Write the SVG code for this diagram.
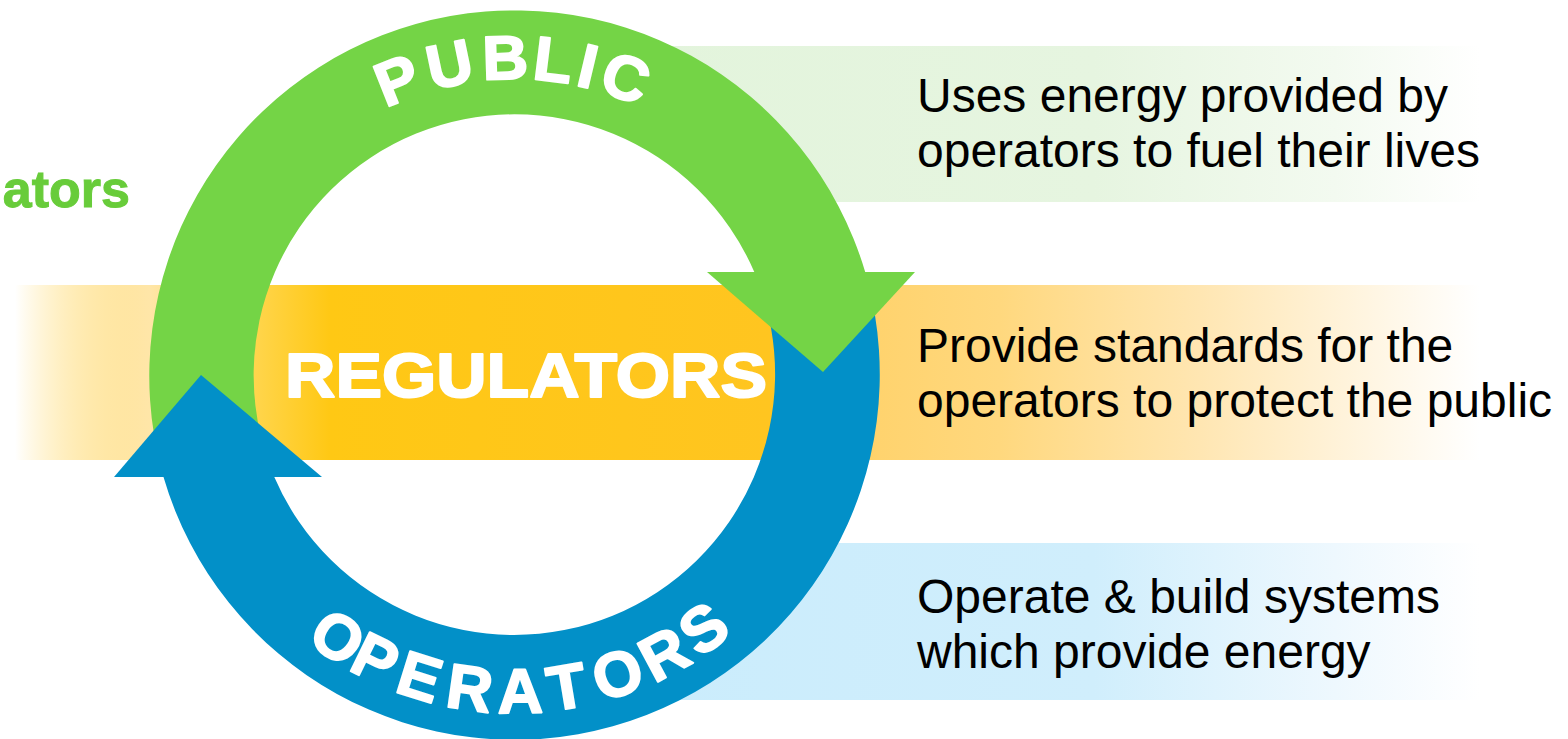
<svg xmlns="http://www.w3.org/2000/svg" width="1568" height="739" viewBox="0 0 1568 739">
<style>
.desc{font-family:"Liberation Sans",Arial,sans-serif;font-size:48px;fill:#000}
.ring{font-family:"Liberation Sans",Arial,sans-serif;font-weight:bold;font-size:63px;fill:#fff;stroke:#fff;stroke-width:2;stroke-linejoin:round}
.pub text{font-size:62px;text-anchor:middle}
.op text{text-anchor:middle}
</style>
<defs>
<linearGradient id="gOrange" gradientUnits="userSpaceOnUse" x1="15" y1="0" x2="1480" y2="0">
<stop offset="0" stop-color="#FFC61E" stop-opacity="0"/>
<stop offset="0.0915" stop-color="#FFE6A8"/>
<stop offset="0.164" stop-color="#FFD54C"/>
<stop offset="0.215" stop-color="#FFC814"/>
<stop offset="0.515" stop-color="#FFC520"/>
<stop offset="0.59" stop-color="#FFD36E"/>
<stop offset="0.672" stop-color="#FFD87E"/>
<stop offset="0.809" stop-color="#FFE6B2"/>
<stop offset="0.945" stop-color="#FFF8EA"/>
<stop offset="1" stop-color="#FFFFFF"/>
</linearGradient>
<linearGradient id="gGreen" gradientUnits="userSpaceOnUse" x1="514" y1="0" x2="1480" y2="0">
<stop offset="0" stop-color="#E2F4DB"/>
<stop offset="0.6" stop-color="#E6F5E0"/>
<stop offset="0.85" stop-color="#F3FAF0"/>
<stop offset="1" stop-color="#FFFFFF"/>
</linearGradient>
<linearGradient id="gBlue" gradientUnits="userSpaceOnUse" x1="514" y1="0" x2="1480" y2="0">
<stop offset="0" stop-color="#C9ECFC"/>
<stop offset="0.6" stop-color="#D0EEFC"/>
<stop offset="0.85" stop-color="#EEF8FE"/>
<stop offset="1" stop-color="#FFFFFF"/>
</linearGradient>
<mask id="outsideRing" maskUnits="userSpaceOnUse" x="0" y="0" width="1568" height="739">
<rect x="0" y="0" width="1568" height="739" fill="#fff"/>
<circle cx="514.5" cy="375" r="300" fill="#000"/>
</mask>
</defs>

<g id="bands">
<rect id="band-public" x="514" y="46" width="966" height="156" fill="url(#gGreen)" mask="url(#outsideRing)"/>
<rect id="band-regulators" x="15" y="285" width="1465" height="175" fill="url(#gOrange)"/>
<rect id="band-operators" x="514" y="543" width="966" height="157" fill="url(#gBlue)" mask="url(#outsideRing)"/>
</g>

<text id="ators" x="130" y="207" text-anchor="end" style="font-family:'Liberation Sans',Arial,sans-serif;font-weight:bold;font-size:52px;fill:#68CC3A;stroke:#68CC3A;stroke-width:1">ators</text>

<g id="connectors">
<path id="arc-public" d="M161.6,470 A365.5,365.5 0 0 1 865.2,272 L754.3,272 A261,261 0 0 0 271.4,470 Z" fill="#74D446"/>
<path id="arc-operators" d="M163.5,477 A365.5,365.5 0 0 0 867.4,280 L757.6,280 A261,261 0 0 1 274.3,477 Z" fill="#0290C8"/>
<polygon id="head-public" points="707,272 915,272 823,372" fill="#74D446"/>
<polygon id="head-operators" points="114,477 322,477 201,375" fill="#0290C8"/>
</g>

<g id="node-public">
<g class="ring pub">
<text transform="translate(514.5,375) rotate(-21.7) translate(0,-296) scale(1.02,1)">P</text>
<text transform="translate(514.5,375) rotate(-11.8) translate(0,-296) scale(1.02,1)">U</text>
<text transform="translate(514.5,375) rotate(-1.7) translate(0,-296) scale(1.02,1)">B</text>
<text transform="translate(514.5,375) rotate(7.0) translate(0,-296) scale(1.02,1)">L</text>
<text transform="translate(514.5,375) rotate(13.4) translate(0,-296) scale(1.02,1)">I</text>
<text transform="translate(514.5,375) rotate(20.5) translate(0,-296) scale(1.02,1)">C</text>
</g>
<text class="desc" x="917" y="112">Uses energy provided by</text>
<text class="desc" x="917" y="167">operators to fuel their lives</text>
</g>

<g id="node-regulators">
<text class="ring" transform="translate(285,397) scale(1.108,1)">REGULATORS</text>
<text class="desc" x="917" y="362">Provide standards for the</text>
<text class="desc" x="917" y="417">operators to protect the public</text>
</g>

<g id="node-operators">
<g class="ring op">
<text transform="translate(514.5,375) rotate(34.0) translate(0,338)">O</text>
<text transform="translate(514.5,375) rotate(26.1) translate(0,338)">P</text>
<text transform="translate(514.5,375) rotate(17.4) translate(0,338)">E</text>
<text transform="translate(514.5,375) rotate(8.1) translate(0,338)">R</text>
<text transform="translate(514.5,375) rotate(-1.0) translate(0,338)">A</text>
<text transform="translate(514.5,375) rotate(-9.5) translate(0,338)">T</text>
<text transform="translate(514.5,375) rotate(-19.0) translate(0,338)">O</text>
<text transform="translate(514.5,375) rotate(-28.2) translate(0,338)">R</text>
<text transform="translate(514.5,375) rotate(-36.7) translate(0,338)">S</text>
</g>
<text class="desc" x="917" y="613">Operate &amp; build systems</text>
<text class="desc" x="917" y="668">which provide energy</text>
</g>
</svg>
